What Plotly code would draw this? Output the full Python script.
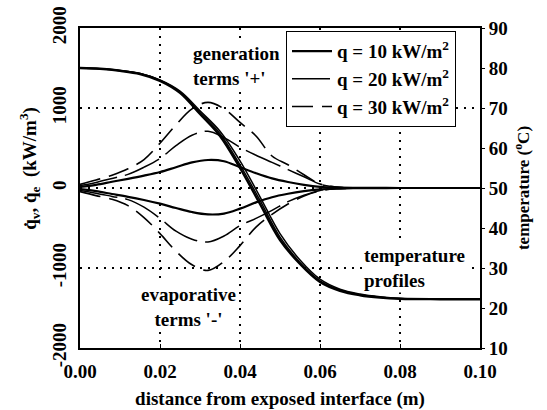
import plotly.graph_objects as go

# distance from the exposed interface (m)
x_src = [0.000, 0.004, 0.008, 0.012, 0.016, 0.020, 0.024, 0.028, 0.032, 0.036,
         0.040, 0.044, 0.048, 0.052, 0.056, 0.060, 0.064, 0.070, 0.080, 0.090, 0.100]

# generation (+) and evaporative (-) source terms, kW/m^3
gen_10 = [15, 40, 78, 115, 155, 200, 260, 320, 350, 335, 260, 185, 120, 75, 40, 15, 5, 2, 0, 0, 0]
evp_10 = [-15, -40, -75, -110, -150, -196, -250, -300, -330, -320, -258, -180, -115, -72, -40, -18, -6, -2, 0, 0, 0]
gen_20 = [30, 70, 120, 170, 260, 370, 530, 660, 710, 630, 510, 410, 320, 230, 140, 50, 12, 3, 0, 0, 0]
evp_20 = [-30, -65, -105, -145, -240, -380, -540, -640, -675, -600, -470, -380, -280, -170, -90, -30, -8, -2, 0, 0, 0]
gen_30 = [45, 100, 160, 240, 355, 560, 790, 990, 1070, 990, 820, 650, 400, 290, 165, 50, 12, 3, 0, 0, 0]
evp_30 = [-45, -95, -140, -220, -370, -570, -790, -960, -1030, -920, -720, -490, -330, -200, -100, -35, -10, -3, 0, 0, 0]

# temperature profiles, deg C
x_temp = [0.000, 0.005, 0.010, 0.015, 0.020, 0.025, 0.030, 0.035, 0.040, 0.045,
          0.050, 0.055, 0.060, 0.065, 0.070, 0.075, 0.080, 0.090, 0.100]
temp_10 = [80, 79.8, 79.3, 78.5, 76.8, 73.8, 68.5, 63.0, 55.0, 46.0, 37.0, 31.0, 26.5, 24.3, 23.2, 22.6, 22.3, 22.2, 22.2]
temp_20 = [80, 79.8, 79.3, 78.6, 76.9, 74.0, 68.9, 63.6, 55.8, 46.9, 37.7, 31.4, 26.8, 24.5, 23.3, 22.7, 22.4, 22.2, 22.2]
temp_30 = [80, 79.8, 79.4, 78.6, 77.0, 74.2, 69.3, 64.2, 56.8, 47.8, 38.6, 32.0, 27.2, 24.7, 23.5, 22.8, 22.4, 22.3, 22.2]

labels = ["q = 10 kW/m<sup>2</sup>", "q = 20 kW/m<sup>2</sup>", "q = 30 kW/m<sup>2</sup>"]
styles = [dict(color="black", width=2.2, dash="solid"),
          dict(color="black", width=1.5, dash="38px,8px"),
          dict(color="black", width=1.6, dash="21px,9px")]

FONT = "Liberation Serif"

fig = go.Figure()
for lab, sty, g, e, t in zip(labels, styles, [gen_10, gen_20, gen_30],
                             [evp_10, evp_20, evp_30], [temp_10, temp_20, temp_30]):
    fig.add_trace(go.Scatter(x=x_src, y=g, mode="lines", line=dict(sty, shape="spline"),
                             name=lab, legendgroup=lab, showlegend=True))
    fig.add_trace(go.Scatter(x=x_src, y=e, mode="lines", line=dict(sty, shape="spline"),
                             name=lab, legendgroup=lab, showlegend=False))
    fig.add_trace(go.Scatter(x=x_temp, y=t, mode="lines", yaxis="y2",
                             line=dict(color="black", width=2.4 if t is temp_10 else 1.5,
                                       shape="spline"),
                             legendgroup=lab, showlegend=False))

txt = dict(family=FONT, size=19, color="black", weight="bold")

fig.update_layout(
    width=547, height=410,
    margin=dict(l=80, r=67, t=28, b=62),
    plot_bgcolor="white", paper_bgcolor="white",
    font=txt,
    xaxis=dict(range=[0, 0.1], tickvals=[0, 0.02, 0.04, 0.06, 0.08, 0.10],
               tickformat=".2f", ticks="inside", ticklen=4, tickcolor="black",
               showline=True, linecolor="black", linewidth=2, mirror=True,
               showgrid=True, gridcolor="black", gridwidth=1.5, griddash="2px,6px",
               zeroline=False, tickfont=txt, ticklabelstandoff=5, automargin=False,
               title=dict(text="distance from exposed interface (m)", font=txt, standoff=14)),
    yaxis=dict(range=[-2000, 2000], tickvals=[-2000, -1000, 0, 1000, 2000],
               ticktext=["-2000", "-1000", "0", "1000", "2000"], tickangle=-90,
               ticks="", showline=True, linecolor="black", linewidth=2,
               showgrid=True, gridcolor="black", gridwidth=1.5, griddash="2px,6px",
               zeroline=False, tickfont=txt, ticklabelstandoff=4, automargin=False),
    yaxis2=dict(range=[10, 90], dtick=10, overlaying="y", side="right",
                ticks="outside", ticklen=3, tickcolor="black",
                showline=True, linecolor="black", linewidth=2,
                showgrid=False, zeroline=False, tickfont=txt, automargin=False,
                title=dict(text="temperature (<sup>o</sup>C)",
                           font=dict(family=FONT, size=17, color="black"), standoff=10)),
    legend=dict(x=0.515, y=0.99, xanchor="left", yanchor="top",
                bgcolor="white", bordercolor="black", borderwidth=1,
                font=dict(family=FONT, size=19, color="black", weight="bold"),
                itemwidth=40, tracegroupgap=0),
    showlegend=True,
)

# left axis title, placed next to the rotated tick labels
fig.add_annotation(x=-0.125, y=0.56, xref="paper", yref="paper", showarrow=False,
                   textangle=-90, xanchor="center", yanchor="middle", font=txt,
                   text="q\u0307<sub>v</sub>, q\u0307<sub>e</sub>  (kW/m<sup>3</sup>)")

ann = dict(showarrow=False, bgcolor="white", font=txt, xref="x", yref="y")
fig.add_annotation(x=0.0278, y=1530, text="generation<br>terms '+'", align="left",
                   xanchor="left", yanchor="middle", **ann)
fig.add_annotation(x=0.0272, y=-1490, text="evaporative<br>terms '-'", align="center",
                   xanchor="center", yanchor="middle", **ann)
fig.add_annotation(x=0.0705, y=-1000, text="temperature<br>profiles", align="left",
                   xanchor="left", yanchor="middle", **ann)

fig.write_html("out.html")
